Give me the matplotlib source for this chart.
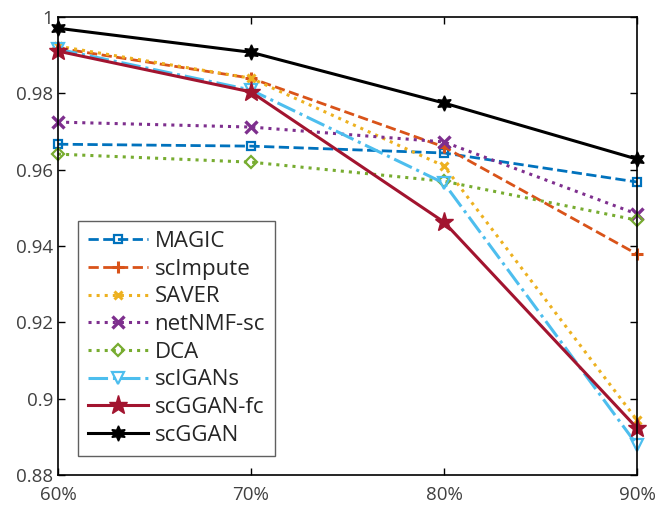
import matplotlib
matplotlib.use('Agg')
import matplotlib.pyplot as plt

plt.rcParams['font.family'] = ['Open Sans', 'DejaVu Sans']

x_labels = ['60%', '70%', '80%', '90%']
x = [0, 1, 2, 3]

magic = [0.9667, 0.9662, 0.9644, 0.9568]
scimpute = [0.9919, 0.9840, 0.9660, 0.9379]
saver = [0.9924, 0.9840, 0.9610, 0.8944]
netnmf = [0.9725, 0.9712, 0.9673, 0.9484]
dca = [0.9641, 0.9620, 0.9570, 0.9468]
scigans = [0.9916, 0.9809, 0.9565, 0.8879]
scggan_fc = [0.9911, 0.9804, 0.9463, 0.8923]
scggan = [0.9971, 0.9908, 0.9775, 0.9628]

fig = plt.figure(figsize=(6.56, 5.05), dpi=100)
ax = fig.add_axes([0.0884, 0.0594, 0.8826, 0.9066])

kw = dict(clip_on=False)
ax.plot(x, magic, '--', color='#0072BD', lw=2, marker='s', ms=6, mfc='none', mew=1.6, label='MAGIC', **kw)
ax.plot(x, scimpute, '--', color='#D95319', lw=2, marker='+', ms=8, mew=2.2, label='scImpute', **kw)
ax.plot(x, saver, ':', color='#EDB120', lw=2.2, marker='x', ms=6, mew=2.2, label='SAVER', **kw)
ax.plot(x, netnmf, ':', color='#7E2F8E', lw=2.2, marker='x', ms=8, mew=2.4, label='netNMF-sc', **kw)
ax.plot(x, dca, ':', color='#77AC30', lw=2.2, marker='D', ms=6, mfc='none', mew=1.6, label='DCA', **kw)
ax.plot(x, scigans, '-.', color='#4DBEEE', lw=2.2, marker='v', ms=9, mfc='none', mew=1.6, label='scIGANs', **kw)
ax.plot(x, scggan_fc, '-', color='#A2142F', lw=2.2, marker='*', ms=14, label='scGGAN-fc', **kw)
ax.plot(x, scggan, '-', color='black', lw=2.2, marker=(6, 1, 0), ms=11, label='scGGAN', **kw)

ax.set_xlim(0, 3)
ax.set_ylim(0.88, 1.0)
ax.set_xticks(x)
ax.set_xticklabels(x_labels)
ax.set_yticks([0.88, 0.9, 0.92, 0.94, 0.96, 0.98, 1.0])
ax.set_yticklabels(['0.88', '0.9', '0.92', '0.94', '0.96', '0.98', '1'])
ax.tick_params(direction='in', top=True, right=True, labelsize=13.5, labelcolor='#404040', length=5, width=1)
ax.tick_params(axis='x', pad=8)
for s in ax.spines.values():
    s.set_linewidth(1.2)

leg = ax.legend(loc='lower left', bbox_to_anchor=(0.015, 0.018), fontsize=16, fancybox=False,
                edgecolor='#606060', framealpha=1, handlelength=2.7, handletextpad=0.3,
                labelspacing=0.3, borderpad=0.45)
leg.get_frame().set_linewidth(1)
for t in leg.get_texts():
    t.set_color('#262626')

fig.savefig('out.png', dpi=100)
